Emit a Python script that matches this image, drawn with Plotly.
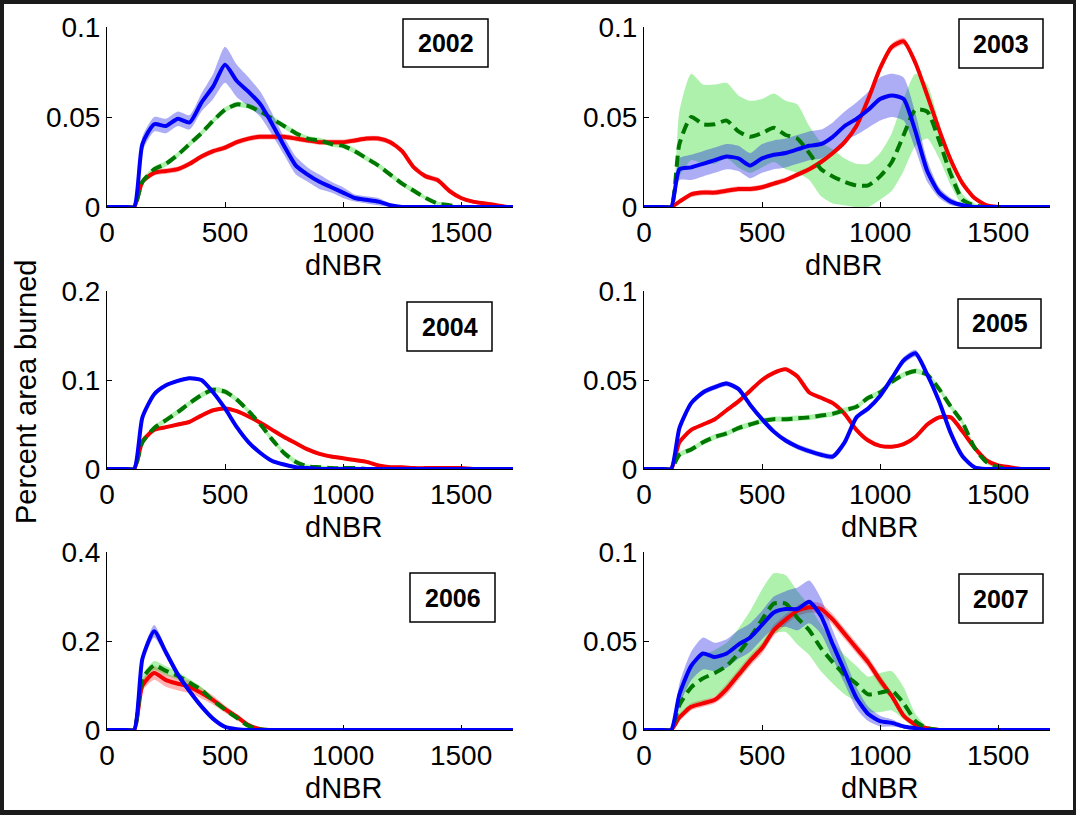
import plotly.graph_objects as go

# ---------------- data ----------------
X_GRID = [0, 80, 115, 150, 200, 250, 300, 350, 400, 450, 500, 550, 600, 650, 700, 750, 800,
          850, 900, 950, 1000, 1050, 1100, 1150, 1200, 1250, 1300, 1350, 1400, 1450,
          1500, 1550, 1600, 1650, 1700, 1720]

YEARS = ["2002", "2003", "2004", "2005", "2006", "2007"]
X_TICKS = [0, 500, 1000, 1500]
X_TICK_TEXT = ["0", "500", "1000", "1500"]
Y_TICKS = {"2002": [0, 0.05, 0.1], "2003": [0, 0.05, 0.1], "2004": [0, 0.1, 0.2],
           "2005": [0, 0.05, 0.1], "2006": [0, 0.2, 0.4], "2007": [0, 0.05, 0.1]}
Y_TICK_TEXT = {"2002": ["0", "0.05", "0.1"], "2003": ["0", "0.05", "0.1"], "2004": ["0", "0.1", "0.2"],
               "2005": ["0", "0.05", "0.1"], "2006": ["0", "0.2", "0.4"], "2007": ["0", "0.05", "0.1"]}
X_LABEL = "dNBR"
Y_LABEL = "Percent area burned"

# 2002
RED_2002 = [0, 0, 0, 0.014, 0.019, 0.020, 0.021, 0.024, 0.028, 0.031, 0.033, 0.036, 0.038, 0.039, 0.039, 0.039,
            0.038, 0.037, 0.036, 0.036, 0.036, 0.037, 0.038, 0.038, 0.036, 0.031, 0.022, 0.017, 0.015, 0.009,
            0.005, 0.003, 0.002, 0.001, 0, 0]
RED_BAND_2002 = [0, 0, 0, 0.0015, 0.0015, 0.0015, 0.0015, 0.0015, 0.0015, 0.0015, 0.0015, 0.0015, 0.0015, 0.0015,
                 0.0015, 0.0015, 0.0015, 0.0015, 0.0015, 0.0015, 0.0015, 0.0015, 0.0015, 0.0015, 0.0015, 0.0015,
                 0.0015, 0.0015, 0.0015, 0.0015, 0.001, 0.001, 0.001, 0.001, 0, 0]
GREEN_2002 = [0, 0, 0, 0.014, 0.021, 0.024, 0.029, 0.035, 0.041, 0.048, 0.054, 0.057, 0.056, 0.053, 0.049, 0.045,
              0.041, 0.038, 0.037, 0.035, 0.034, 0.031, 0.027, 0.023, 0.018, 0.013, 0.009, 0.005, 0.002, 0.001,
              0, 0, 0, 0, 0, 0]
GREEN_BAND_2002 = [0, 0, 0, 0.0015, 0.0015, 0.0015, 0.0015, 0.0015, 0.0015, 0.0015, 0.0015, 0.0015, 0.0015, 0.0015,
                   0.0015, 0.0015, 0.0015, 0.0015, 0.0015, 0.0015, 0.0015, 0.0015, 0.0015, 0.0015, 0.0015, 0.0015,
                   0.0015, 0.001, 0.001, 0.001, 0, 0, 0, 0, 0, 0]
BLUE_2002 = [0, 0, 0, 0.035, 0.046, 0.045, 0.049, 0.047, 0.058, 0.067, 0.079, 0.070, 0.064, 0.057, 0.046, 0.034,
             0.023, 0.018, 0.014, 0.011, 0.008, 0.005, 0.004, 0.003, 0.001, 0, 0, 0, 0, 0, 0, 0, 0, 0, 0, 0]
BLUE_BAND_2002 = [0, 0, 0, 0.004, 0.004, 0.004, 0.004, 0.004, 0.005, 0.007, 0.010, 0.009, 0.008, 0.007, 0.006,
                  0.005, 0.005, 0.004, 0.004, 0.003, 0.003, 0.002, 0.002, 0.002, 0.001, 0, 0, 0, 0, 0, 0, 0,
                  0, 0, 0, 0]

# 2003
RED_2003 = [0, 0, 0, 0.003, 0.007, 0.008, 0.008, 0.009, 0.010, 0.010, 0.011, 0.013, 0.015, 0.018, 0.021, 0.025,
            0.030, 0.036, 0.045, 0.060, 0.077, 0.089, 0.092, 0.080, 0.062, 0.043, 0.026, 0.013, 0.005, 0.001,
            0, 0, 0, 0, 0, 0]
RED_BAND_2003 = [0, 0, 0, 0.001, 0.0015, 0.0015, 0.0015, 0.0015, 0.0015, 0.0015, 0.0015, 0.0015, 0.0015, 0.0015,
                 0.0015, 0.0015, 0.0015, 0.0015, 0.002, 0.002, 0.002, 0.002, 0.002, 0.002, 0.002, 0.002, 0.002,
                 0.0015, 0.001, 0.001, 0, 0, 0, 0, 0, 0]
GREEN_2003 = [0, 0, 0, 0.035, 0.050, 0.046, 0.046, 0.048, 0.042, 0.039, 0.041, 0.044, 0.040, 0.038, 0.030, 0.021,
              0.017, 0.014, 0.012, 0.012, 0.017, 0.025, 0.040, 0.054, 0.053, 0.037, 0.018, 0.004, 0.001, 0,
              0, 0, 0, 0, 0, 0]
GREEN_BAND_2003 = [0, 0, 0, 0.018, 0.024, 0.022, 0.022, 0.021, 0.020, 0.020, 0.019, 0.019, 0.019, 0.019, 0.015,
                   0.015, 0.015, 0.013, 0.012, 0.012, 0.013, 0.016, 0.020, 0.020, 0.015, 0.010, 0.006, 0.003,
                   0.001, 0, 0, 0, 0, 0, 0, 0]
BLUE_2003 = [0, 0, 0, 0.021, 0.022, 0.024, 0.026, 0.028, 0.027, 0.023, 0.027, 0.029, 0.030, 0.032, 0.034, 0.035,
             0.039, 0.045, 0.049, 0.054, 0.060, 0.062, 0.060, 0.042, 0.020, 0.008, 0.003, 0.001, 0, 0, 0, 0,
             0, 0, 0, 0]
BLUE_BAND_2003 = [0, 0, 0, 0.006, 0.007, 0.007, 0.007, 0.007, 0.007, 0.007, 0.008, 0.008, 0.008, 0.008, 0.008,
                  0.008, 0.008, 0.008, 0.009, 0.010, 0.012, 0.012, 0.012, 0.010, 0.006, 0.003, 0.002, 0.001,
                  0, 0, 0, 0, 0, 0, 0, 0]

# 2004
RED_2004 = [0, 0, 0, 0.031, 0.044, 0.047, 0.050, 0.053, 0.060, 0.066, 0.068, 0.065, 0.059, 0.052, 0.044, 0.036,
            0.029, 0.022, 0.017, 0.014, 0.012, 0.010, 0.008, 0.004, 0.002, 0.002, 0.001, 0.001, 0.001, 0.001,
            0.001, 0, 0, 0, 0, 0]
RED_BAND_2004 = [0, 0, 0, 0.002, 0.002, 0.002, 0.002, 0.002, 0.002, 0.002, 0.002, 0.002, 0.002, 0.002, 0.002,
                 0.002, 0.002, 0.002, 0.002, 0.002, 0.002, 0.002, 0.002, 0.002, 0.002, 0.002, 0.002, 0.002,
                 0.002, 0.002, 0.002, 0, 0, 0, 0, 0]
GREEN_2004 = [0, 0, 0, 0.030, 0.046, 0.055, 0.064, 0.074, 0.083, 0.089, 0.087, 0.078, 0.065, 0.050, 0.033, 0.018,
              0.008, 0.003, 0.002, 0.001, 0.001, 0.001, 0, 0, 0, 0, 0, 0, 0, 0, 0, 0, 0, 0, 0, 0]
GREEN_BAND_2004 = [0, 0, 0, 0.003, 0.003, 0.003, 0.003, 0.003, 0.003, 0.003, 0.003, 0.003, 0.003, 0.003, 0.003,
                   0.003, 0.003, 0.002, 0.002, 0.002, 0.002, 0.002, 0, 0, 0, 0, 0, 0, 0, 0, 0, 0, 0, 0, 0, 0]
BLUE_2004 = [0, 0, 0, 0.058, 0.084, 0.094, 0.099, 0.102, 0.100, 0.086, 0.068, 0.047, 0.030, 0.018, 0.009, 0.005,
             0.002, 0.001, 0, 0, 0, 0, 0, 0, 0, 0, 0, 0, 0, 0, 0, 0, 0, 0, 0, 0]
BLUE_BAND_2004 = [0, 0, 0, 0.002, 0.002, 0.002, 0.002, 0.002, 0.002, 0.002, 0.002, 0.002, 0.002, 0.002, 0.002,
                  0.002, 0.002, 0.001, 0, 0, 0, 0, 0, 0, 0, 0, 0, 0, 0, 0, 0, 0, 0, 0, 0, 0]

# 2005
RED_2005 = [0, 0, 0, 0.015, 0.022, 0.025, 0.028, 0.033, 0.038, 0.044, 0.050, 0.054, 0.056, 0.052, 0.043, 0.040,
            0.037, 0.031, 0.022, 0.016, 0.013, 0.0125, 0.014, 0.018, 0.025, 0.029, 0.029, 0.021, 0.012, 0.005,
            0.002, 0.001, 0, 0, 0, 0]
RED_BAND_2005 = [0, 0, 0, 0.001, 0.001, 0.001, 0.001, 0.001, 0.001, 0.001, 0.001, 0.001, 0.001, 0.001, 0.001,
                 0.001, 0.001, 0.001, 0.001, 0.001, 0.001, 0.001, 0.001, 0.001, 0.001, 0.001, 0.001, 0.001,
                 0.001, 0.001, 0.001, 0.001, 0, 0, 0, 0]
GREEN_2005 = [0, 0, 0, 0.008, 0.011, 0.015, 0.018, 0.020, 0.023, 0.025, 0.027, 0.028, 0.028, 0.0285, 0.029, 0.030,
              0.031, 0.033, 0.035, 0.040, 0.043, 0.049, 0.053, 0.055, 0.053, 0.045, 0.035, 0.026, 0.012, 0.004,
              0.001, 0, 0, 0, 0, 0]
GREEN_BAND_2005 = [0, 0, 0, 0.0015, 0.0015, 0.0015, 0.0015, 0.0015, 0.0015, 0.0015, 0.0015, 0.0015, 0.0015,
                   0.0015, 0.0015, 0.0015, 0.0015, 0.0015, 0.0015, 0.0015, 0.0015, 0.0015, 0.0015, 0.0015,
                   0.0015, 0.0015, 0.0015, 0.0015, 0.0015, 0.001, 0.001, 0, 0, 0, 0, 0]
BLUE_2005 = [0, 0, 0, 0.023, 0.037, 0.043, 0.046, 0.048, 0.045, 0.036, 0.028, 0.021, 0.016, 0.0125, 0.010, 0.008,
             0.007, 0.015, 0.029, 0.034, 0.041, 0.051, 0.061, 0.065, 0.053, 0.038, 0.020, 0.007, 0.001, 0, 0,
             0, 0, 0, 0, 0]
BLUE_BAND_2005 = [0, 0, 0, 0.0015, 0.0015, 0.0015, 0.0015, 0.0015, 0.0015, 0.0015, 0.0015, 0.0015, 0.0015,
                  0.0015, 0.0015, 0.0015, 0.0015, 0.0015, 0.0015, 0.0015, 0.0015, 0.0015, 0.002, 0.002,
                  0.0015, 0.0015, 0.0015, 0.001, 0.001, 0, 0, 0, 0, 0, 0, 0]

# 2006
RED_2006 = [0, 0, 0, 0.100, 0.128, 0.112, 0.104, 0.097, 0.083, 0.067, 0.047, 0.030, 0.011, 0.002, 0, 0, 0, 0, 0,
            0, 0, 0, 0, 0, 0, 0, 0, 0, 0, 0, 0, 0, 0, 0, 0, 0]
RED_BAND_2006 = [0, 0, 0, 0.012, 0.015, 0.015, 0.015, 0.014, 0.012, 0.010, 0.008, 0.006, 0.004, 0.002, 0, 0, 0,
                 0, 0, 0, 0, 0, 0, 0, 0, 0, 0, 0, 0, 0, 0, 0, 0, 0, 0, 0]
GREEN_2006 = [0, 0, 0, 0.115, 0.145, 0.133, 0.122, 0.106, 0.090, 0.066, 0.046, 0.027, 0.009, 0.002, 0, 0, 0, 0,
              0, 0, 0, 0, 0, 0, 0, 0, 0, 0, 0, 0, 0, 0, 0, 0, 0, 0]
GREEN_BAND_2006 = [0, 0, 0, 0.008, 0.010, 0.010, 0.009, 0.008, 0.007, 0.006, 0.005, 0.004, 0.003, 0.001, 0, 0,
                   0, 0, 0, 0, 0, 0, 0, 0, 0, 0, 0, 0, 0, 0, 0, 0, 0, 0, 0, 0]
BLUE_2006 = [0, 0, 0, 0.160, 0.222, 0.174, 0.125, 0.087, 0.053, 0.025, 0.007, 0.002, 0, 0, 0, 0, 0, 0, 0, 0, 0,
             0, 0, 0, 0, 0, 0, 0, 0, 0, 0, 0, 0, 0, 0, 0]
BLUE_BAND_2006 = [0, 0, 0, 0.010, 0.014, 0.010, 0.008, 0.007, 0.006, 0.004, 0.002, 0.001, 0, 0, 0, 0, 0, 0, 0,
                  0, 0, 0, 0, 0, 0, 0, 0, 0, 0, 0, 0, 0, 0, 0, 0, 0]

# 2007
RED_2007 = [0, 0, 0, 0.007, 0.013, 0.015, 0.017, 0.023, 0.031, 0.039, 0.046, 0.056, 0.062, 0.067, 0.069, 0.068,
            0.062, 0.054, 0.046, 0.038, 0.028, 0.019, 0.008, 0.003, 0.001, 0, 0, 0, 0, 0, 0, 0, 0, 0, 0, 0]
RED_BAND_2007 = [0, 0, 0, 0.002, 0.002, 0.002, 0.002, 0.003, 0.003, 0.003, 0.003, 0.003, 0.003, 0.003, 0.003,
                 0.003, 0.003, 0.003, 0.003, 0.003, 0.003, 0.002, 0.002, 0.001, 0.001, 0, 0, 0, 0, 0, 0, 0, 0,
                 0, 0, 0]
GREEN_2007 = [0, 0, 0, 0.014, 0.024, 0.029, 0.032, 0.036, 0.043, 0.052, 0.062, 0.071, 0.071, 0.063, 0.056, 0.046,
              0.038, 0.031, 0.026, 0.020, 0.021, 0.022, 0.015, 0.005, 0.001, 0, 0, 0, 0, 0, 0, 0, 0, 0, 0, 0]
GREEN_BAND_2007 = [0, 0, 0, 0.008, 0.011, 0.013, 0.013, 0.013, 0.014, 0.015, 0.017, 0.017, 0.016, 0.015, 0.014,
                   0.013, 0.012, 0.011, 0.010, 0.010, 0.011, 0.011, 0.009, 0.004, 0.001, 0, 0, 0, 0, 0, 0, 0,
                   0, 0, 0, 0]
BLUE_2007 = [0, 0, 0, 0.020, 0.036, 0.043, 0.041, 0.043, 0.048, 0.052, 0.059, 0.066, 0.068, 0.068, 0.072, 0.064,
             0.048, 0.033, 0.018, 0.009, 0.005, 0.004, 0.002, 0.001, 0, 0, 0, 0, 0, 0, 0, 0, 0, 0, 0, 0]
BLUE_BAND_2007 = [0, 0, 0, 0.006, 0.008, 0.009, 0.008, 0.008, 0.008, 0.008, 0.008, 0.009, 0.010, 0.012, 0.012,
                  0.010, 0.008, 0.007, 0.006, 0.004, 0.003, 0.002, 0.001, 0.001, 0, 0, 0, 0, 0, 0, 0, 0, 0, 0,
                  0, 0]

SERIES = {
    "2002": (RED_2002, RED_BAND_2002, GREEN_2002, GREEN_BAND_2002, BLUE_2002, BLUE_BAND_2002),
    "2003": (RED_2003, RED_BAND_2003, GREEN_2003, GREEN_BAND_2003, BLUE_2003, BLUE_BAND_2003),
    "2004": (RED_2004, RED_BAND_2004, GREEN_2004, GREEN_BAND_2004, BLUE_2004, BLUE_BAND_2004),
    "2005": (RED_2005, RED_BAND_2005, GREEN_2005, GREEN_BAND_2005, BLUE_2005, BLUE_BAND_2005),
    "2006": (RED_2006, RED_BAND_2006, GREEN_2006, GREEN_BAND_2006, BLUE_2006, BLUE_BAND_2006),
    "2007": (RED_2007, RED_BAND_2007, GREEN_2007, GREEN_BAND_2007, BLUE_2007, BLUE_BAND_2007),
}

# ---------------- layout geometry (pixels) ----------------
W, H = 1076, 815
COL_X = [(107, 513), (644, 1050)]
ROW_Y = [(27, 207), (291, 469), (552, 730)]
X_MAX = 1720
# label boxes: (x0, y0, x1, y1)
BOXES = {"2002": (403, 19, 488, 67), "2003": (959, 19, 1043, 68), "2004": (407, 302, 492, 351),
         "2005": (958, 299, 1041, 348), "2006": (410, 573, 495, 622), "2007": (959, 574, 1043, 623)}
XLABEL_X = {"2002": 343, "2003": 843, "2004": 343, "2005": 879, "2006": 343, "2007": 879}

FONT = "Liberation Sans, Arial, Helvetica, sans-serif"
RED, GREEN, BLUE = "rgb(245,0,0)", "rgb(0,120,0)", "rgb(0,0,250)"
RED_FILL, GREEN_FILL, BLUE_FILL = "rgba(255,0,0,0.30)", "rgba(0,210,0,0.32)", "rgba(20,20,230,0.35)"
SMOOTH = 0.6


def px(x):
    return x / W


def py(y):
    return 1 - y / H


fig = go.Figure()
layout = dict(width=W, height=H, margin=dict(l=0, r=0, t=0, b=0, pad=0), paper_bgcolor="#1b1b1b",
              plot_bgcolor="rgba(0,0,0,0)", showlegend=False, shapes=[], annotations=[])

layout["shapes"].append(dict(type="rect", xref="paper", yref="paper", x0=px(4), x1=px(1073), y0=py(810),
                             y1=py(4), fillcolor="white", line=dict(width=0), layer="below"))

for i, yr in enumerate(YEARS):
    row, col = i // 2, i % 2
    n = i + 1
    xa = "x" if n == 1 else f"x{n}"
    ya = "y" if n == 1 else f"y{n}"
    red, redb, green, greenb, blue, blueb = SERIES[yr]
    ymax = Y_TICKS[yr][-1]

    for vals, band, fill in ((red, redb, RED_FILL), (green, greenb, GREEN_FILL), (blue, blueb, BLUE_FILL)):
        up = [v + b for v, b in zip(vals, band)]
        lo = [max(v - b, 0) for v, b in zip(vals, band)]
        fig.add_trace(go.Scatter(x=X_GRID + X_GRID[::-1], y=up + lo[::-1], fill="toself", fillcolor=fill,
                                 line=dict(width=0, shape="spline", smoothing=SMOOTH), mode="lines",
                                 hoverinfo="skip", xaxis=xa, yaxis=ya))
    fig.add_trace(go.Scatter(x=X_GRID, y=red, mode="lines",
                             line=dict(color=RED, width=4, shape="spline", smoothing=SMOOTH),
                             xaxis=xa, yaxis=ya))
    fig.add_trace(go.Scatter(x=X_GRID, y=green, mode="lines",
                             line=dict(color=GREEN, width=4, dash="11px,6px", shape="spline", smoothing=SMOOTH),
                             xaxis=xa, yaxis=ya))
    fig.add_trace(go.Scatter(x=X_GRID, y=blue, mode="lines",
                             line=dict(color=BLUE, width=4, shape="spline", smoothing=SMOOTH),
                             xaxis=xa, yaxis=ya))

    cx0, cx1 = COL_X[col]
    ry0, ry1 = ROW_Y[row]
    key_x = "xaxis" if n == 1 else f"xaxis{n}"
    key_y = "yaxis" if n == 1 else f"yaxis{n}"
    layout[key_x] = dict(domain=[px(cx0), px(cx1)], anchor=ya, range=[0, X_MAX], showline=True,
                         linecolor="black", linewidth=1, ticks="inside", ticklen=5, tickcolor="black",
                         tickvals=X_TICKS, ticktext=X_TICK_TEXT, showgrid=False, zeroline=False,
                         automargin=False, tickfont=dict(family=FONT, size=28, color="black"))
    layout[key_y] = dict(domain=[py(ry1), py(ry0)], anchor=xa, range=[0, ymax], showline=True,
                         linecolor="black", linewidth=1, ticks="inside", ticklen=5, tickcolor="black",
                         tickvals=Y_TICKS[yr], ticktext=Y_TICK_TEXT[yr], showgrid=False, zeroline=False,
                         automargin=False, tickfont=dict(family=FONT, size=28, color="black"))

    bx0, by0, bx1, by1 = BOXES[yr]
    layout["shapes"].append(dict(type="rect", xref="paper", yref="paper", x0=px(bx0), x1=px(bx1),
                                 y0=py(by1), y1=py(by0), fillcolor="white",
                                 line=dict(color="black", width=1.5), layer="above"))
    layout["annotations"].append(dict(text=f"<b>{yr}</b>", xref="paper", yref="paper",
                                      x=px((bx0 + bx1) / 2), y=py((by0 + by1) / 2), showarrow=False,
                                      xanchor="center", yanchor="middle",
                                      font=dict(family=FONT, size=25, color="black")))
    layout["annotations"].append(dict(text=X_LABEL, xref="paper", yref="paper", x=px(XLABEL_X[yr]),
                                      y=py(ry1 + 58), showarrow=False, xanchor="center", yanchor="middle",
                                      font=dict(family=FONT, size=29, color="black")))

layout["annotations"].append(dict(text=Y_LABEL, xref="paper", yref="paper", x=px(26), y=py(392),
                                  showarrow=False, textangle=-90, xanchor="center", yanchor="middle",
                                  font=dict(family=FONT, size=29, color="black")))

fig.update_layout(**layout)
fig.write_html("out.html", config={"displayModeBar": False},
               post_script="document.body.style.margin='0px';document.body.style.padding='0px';"
                           "document.body.style.overflow='hidden';"
                           "document.body.style.background='#1b1b1b';")
